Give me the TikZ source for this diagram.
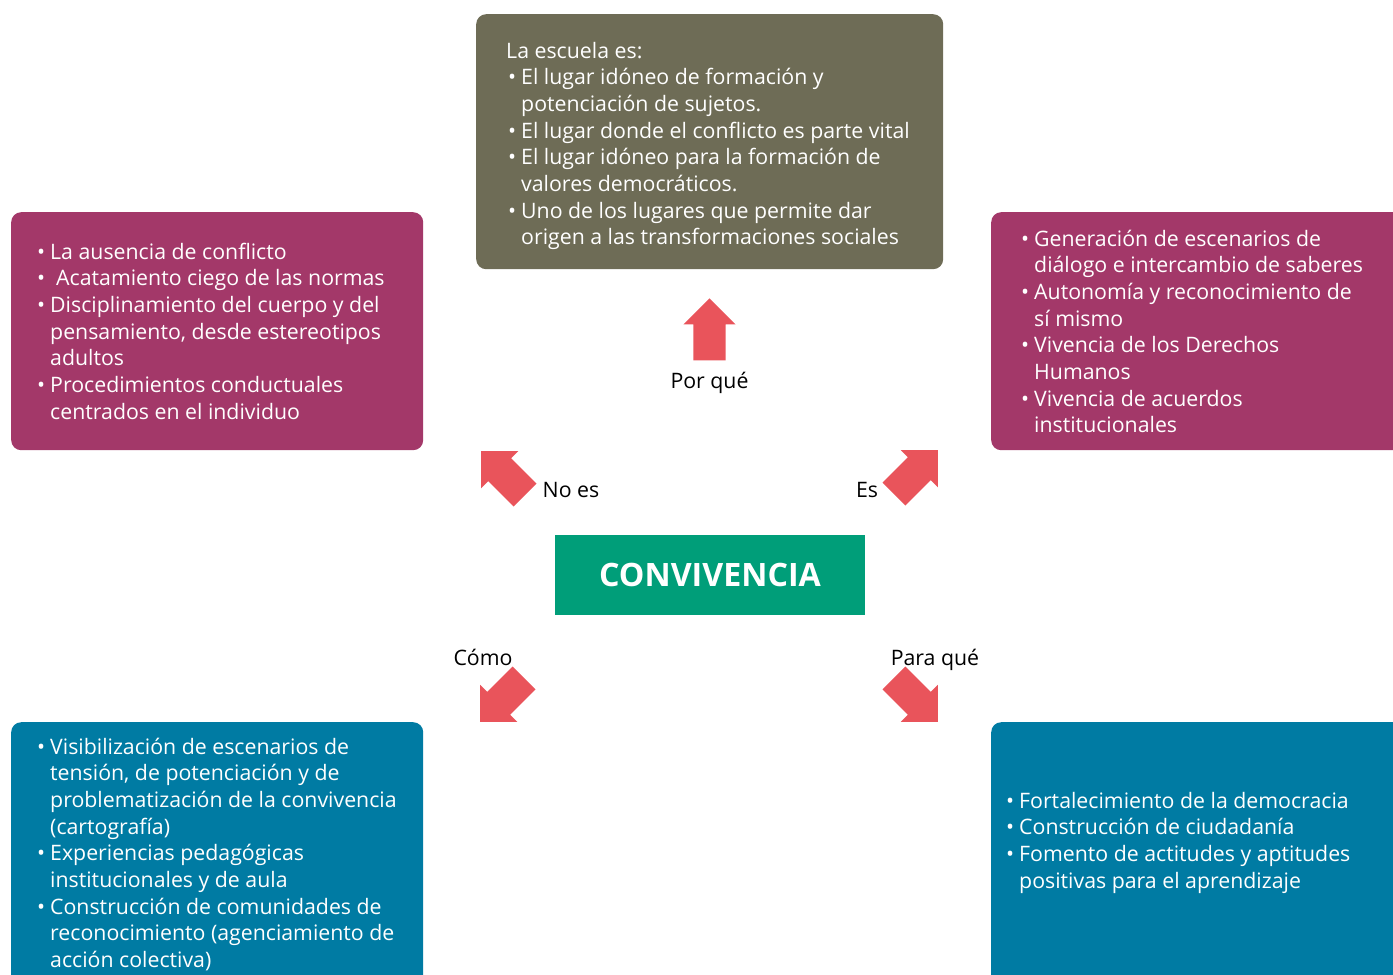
\documentclass[tikz,border=0pt]{standalone}
\usepackage{fontspec}
\setmainfont{Open Sans}
\usetikzlibrary{shapes.arrows}
\definecolor{olivebox}{RGB}{110,108,86}
\definecolor{magbox}{RGB}{163,56,105}
\definecolor{bluebox}{RGB}{0,123,163}
\definecolor{greenbox}{RGB}{0,158,121}
\definecolor{arrowred}{RGB}{233,84,91}
\newcommand{\blist}[1]{\begin{tabular}[t]{@{}p{13pt}@{}l@{}}#1\end{tabular}}
\newcommand{\bl}{\textbullet}
\tikzset{
  panel/.style={rounded corners=10pt, inner sep=0pt, anchor=north west, draw=none},
  paneltext/.style={text=white, inner sep=0pt, anchor=base west, font=\fontsize{21.3}{26.7}\selectfont},
  lbl/.style={inner sep=0pt, anchor=base, font=\fontsize{21.3}{26.7}\selectfont},
  bigarrow/.style={single arrow, fill=arrowred, draw=none, inner xsep=0pt, inner ysep=16pt,
    minimum height=62pt, single arrow head extend=10pt, single arrow tip angle=90, anchor=tip},
}

\begin{document}
\begin{tikzpicture}[x=1pt,y=-1pt]
\useasboundingbox (0,0) rectangle (1393,975);
\clip (0,0) rectangle (1393,975);

% the five panels
\node[panel, fill=olivebox, minimum width=467pt, minimum height=255pt] (escuela) at (476,14) {};
\node[panel, fill=magbox, minimum width=412pt, minimum height=238pt] (noes) at (11,212) {};
\node[panel, fill=magbox, minimum width=420pt, minimum height=238pt] (es) at (991,212) {};
\node[panel, fill=bluebox, minimum width=412pt, minimum height=280pt] (como) at (11,722) {};
\node[panel, fill=bluebox, minimum width=420pt, minimum height=280pt] (paraque) at (991,722) {};

% centre
\node[fill=greenbox, minimum width=310pt, minimum height=80pt, inner sep=0pt, text=white,
  font=\fontsize{32.2}{32.2}\selectfont\bfseries] (conv) at (710,575) {CONVIVENCIA};

% panel texts
\node[paneltext] (escuelatxt) at (508,58) {\blist{%
  \multicolumn{2}{@{}l@{}}{\hspace*{-2pt}La escuela es:}\\
  \bl & El lugar idóneo de formación y\\
      & potenciación de sujetos.\\
  \bl & El lugar donde el conflicto es parte vital\\
  \bl & El lugar idóneo para la formación de\\
      & valores democráticos.\\
  \bl & Uno de los lugares que permite dar\\
      & origen a las transformaciones sociales}};

\node[paneltext] (noestxt) at (37,259) {\blist{%
  \bl & La ausencia de conflicto\\
  \bl & \hspace*{6pt}Acatamiento ciego de las normas\\
  \bl & Disciplinamiento del cuerpo y del\\
      & pensamiento, desde estereotipos\\
      & adultos\\
  \bl & Procedimientos conductuales\\
      & centrados en el individuo}};

\node[paneltext] (estxt) at (1021,246) {\blist{%
  \bl & Generación de escenarios de\\
      & diálogo e intercambio de saberes\\
  \bl & Autonomía y reconocimiento de\\
      & sí mismo\\
  \bl & Vivencia de los Derechos\\
      & Humanos\\
  \bl & Vivencia de acuerdos\\
      & institucionales}};

\node[paneltext] (comotxt) at (37,754) {\blist{%
  \bl & Visibilización de escenarios de\\
      & tensión, de potenciación y de\\
      & problematización de la convivencia\\
      & (cartografía)\\
  \bl & Experiencias pedagógicas\\
      & institucionales y de aula\\
  \bl & Construcción de comunidades de\\
      & reconocimiento (agenciamiento de\\
      & acción colectiva)}};

\node[paneltext] (paraquetxt) at (1006,808) {\blist{%
  \bl & Fortalecimiento de la democracia\\
  \bl & Construcción de ciudadanía\\
  \bl & Fomento de actitudes y aptitudes\\
      & positivas para el aprendizaje}};

% block arrows
\node[bigarrow, rotate=90] (porquearr) at (709.5,298) {};
\foreach \nm/\ang/\tx/\ty in {noesarr/135/481/451, esarr/45/938/450, comoarr/225/480/722, paraquearr/-45/938/722}
  \node[bigarrow, rotate=\ang] (\nm) at (\tx,\ty) {};

% arrow labels
\node[lbl] (porquelbl) at (709.5,388) {Por qué};
\node[lbl] (noeslbl) at (571,497) {No es};
\node[lbl] (eslbl) at (867,497) {Es};
\node[lbl] (comolbl) at (483,665) {Cómo};
\node[lbl] (paraquelbl) at (935,665) {Para qué};

\end{tikzpicture}
\end{document}
